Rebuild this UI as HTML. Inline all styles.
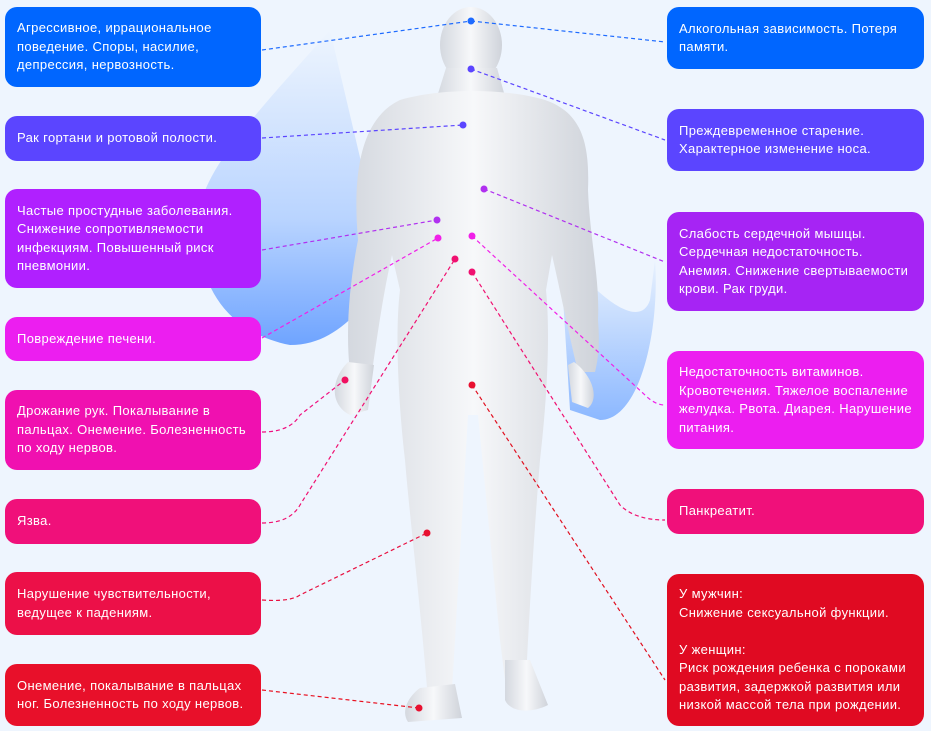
<!DOCTYPE html>
<html><head><meta charset="utf-8"><style>
body{margin:0;width:931px;height:731px;background:#eef5fe;position:relative;overflow:hidden;font-family:"Liberation Sans",sans-serif}
.b{position:absolute;border-radius:12px;color:#fff;font-size:13px;letter-spacing:.35px;line-height:18.5px;padding:0 10px 0 12px;box-sizing:border-box;display:flex;flex-direction:column;justify-content:center}
.l{left:5px;width:256px}.r{left:667px;width:257px}
svg{position:absolute;left:0;top:0}
</style></head><body>
<svg width="931" height="731">
<defs>
<linearGradient id="sw" x1="0" y1="0" x2="0" y2="1"><stop offset="0" stop-color="#eef5fe"/><stop offset=".6" stop-color="#b9d4ff"/><stop offset="1" stop-color="#6fa4ff"/></linearGradient>
<linearGradient id="sw2" x1="0" y1="0" x2="0" y2="1"><stop offset="0" stop-color="#eef5fe"/><stop offset="1" stop-color="#8cb8ff"/></linearGradient>
<linearGradient id="bd" x1="0" y1="0" x2="1" y2="0"><stop offset="0" stop-color="#d4d8df"/><stop offset=".5" stop-color="#f7f8fa"/><stop offset="1" stop-color="#cfd3da"/></linearGradient>
</defs>
<path d="M330 30 C260 110 200 170 198 220 C196 270 215 330 290 345 C320 345 340 330 360 310 L370 200 Z" fill="url(#sw)"/>
<path d="M560 250 C600 300 640 330 650 300 L655 260 C660 330 640 420 600 420 L570 410 Z" fill="url(#sw2)"/>
<g fill="url(#bd)">
<ellipse cx="471" cy="45" rx="31" ry="38"/>
<path d="M446 68 L497 68 L506 100 L436 100Z"/>
<path d="M400 100 C440 88 505 88 545 100 C580 112 590 140 588 190 C590 240 600 280 598 320 C600 345 598 360 595 372 L578 372 C568 330 560 290 552 255 L546 290 C550 330 548 390 540 460 C535 520 530 600 527 660 L505 680 L500 640 L478 415 L468 415 L455 640 L452 690 L428 700 C420 600 410 520 405 460 C398 400 395 330 400 290 L392 255 C384 290 378 330 372 372 L350 372 C345 330 350 280 358 240 C352 170 362 118 400 100Z"/>
<path d="M348 362 C330 380 330 405 350 415 L368 410 L374 365Z"/>
<path d="M574 362 C592 375 600 398 588 408 L572 402 L568 365Z"/>
<path d="M420 688 L455 684 L462 718 L408 722 C400 710 410 695 420 688Z"/>
<path d="M505 660 L530 660 L548 705 C530 714 510 712 505 700Z"/>
</g>
<g fill="none" stroke-width="1.2" stroke-dasharray="4 3">
<path d="M262 50 L471 21" stroke="#1e6bff"/>
<path d="M471 21 L665 42" stroke="#1e6bff"/>
<path d="M471 69 L665 140" stroke="#5b45ff"/>
<path d="M262 138 L463 125" stroke="#5b45ff"/>
<path d="M484 189 L665 262" stroke="#b030f0"/>
<path d="M262 250 L437 220" stroke="#b030f0"/>
<path d="M262 338 L438 238" stroke="#f020e8"/>
<path d="M472 236 L645 395 Q655 405 665 405" stroke="#f020e8"/>
<path d="M262 432 Q290 432 300 415 L345 380" stroke="#f01080"/>
<path d="M262 523 Q290 523 300 505 L455 259" stroke="#f01070"/>
<path d="M472 272 L620 505 Q635 520 665 520" stroke="#f01070"/>
<path d="M262 600 Q290 602 300 595 L427 533" stroke="#e81040"/>
<path d="M262 690 L419 708" stroke="#e81020"/>
<path d="M472 385 L665 680" stroke="#e01020"/>
</g>
<g>
<circle cx="471" cy="21" r="3.5" fill="#1e6bff"/><circle cx="471" cy="69" r="3.5" fill="#5b45ff"/>
<circle cx="463" cy="125" r="3.5" fill="#5b45ff"/><circle cx="484" cy="189" r="3.5" fill="#b030f0"/>
<circle cx="437" cy="220" r="3.5" fill="#b030f0"/><circle cx="438" cy="238" r="3.5" fill="#f020e8"/>
<circle cx="472" cy="236" r="3.5" fill="#f020e8"/><circle cx="455" cy="259" r="3.5" fill="#f01070"/>
<circle cx="472" cy="272" r="3.5" fill="#f01070"/><circle cx="345" cy="380" r="3.5" fill="#f01060"/>
<circle cx="472" cy="385" r="3.5" fill="#e81030"/><circle cx="427" cy="533" r="3.5" fill="#e81030"/>
<circle cx="419" cy="708" r="3.5" fill="#e81030"/>
</g>
</svg>
<div class="b l" style="top:7px;height:80px;background:#0066ff">Агрессивное, иррациональное поведение. Споры, насилие, депрессия, нервозность.</div>
<div class="b l" style="top:116px;height:45px;background:#5b45ff">Рак гортани и ротовой полости.</div>
<div class="b l" style="top:189px;height:99px;background:#b020ff">Частые простудные заболевания. Снижение сопротивляемости инфекциям. Повышенный риск пневмонии.</div>
<div class="b l" style="top:317px;height:44px;background:#ec1ef0">Повреждение печени.</div>
<div class="b l" style="top:390px;height:80px;background:#f010b0">Дрожание рук. Покалывание в<br>пальцах. Онемение. Болезненность по ходу нервов.</div>
<div class="b l" style="top:499px;height:45px;background:#f0107a">Язва.</div>
<div class="b l" style="top:572px;height:63px;background:#ec1048">Нарушение чувствительности,<br>ведущее к падениям.</div>
<div class="b l" style="top:664px;height:62px;background:#e8102a">Онемение, покалывание в пальцах<br>ног. Болезненность по ходу нервов.</div>
<div class="b r" style="top:7px;height:62px;background:#0066ff">Алкогольная зависимость. Потеря<br>памяти.</div>
<div class="b r" style="top:109px;height:62px;background:#5b45ff">Преждевременное старение.<br>Характерное изменение носа.</div>
<div class="b r" style="top:212px;height:99px;background:#a624f4">Слабость сердечной мышцы.<br>Сердечная недостаточность.<br>Анемия. Снижение свертываемости<br>крови. Рак груди.</div>
<div class="b r" style="top:351px;height:98px;background:#ec1ef0">Недостаточность витаминов.<br>Кровотечения. Тяжелое воспаление<br>желудка. Рвота. Диарея. Нарушение<br>питания.</div>
<div class="b r" style="top:489px;height:45px;background:#f0107a">Панкреатит.</div>
<div class="b r" style="top:574px;height:152px;background:#e00a22">У мужчин:<br>Снижение сексуальной функции.<br><br>У женщин:<br>Риск рождения ребенка с пороками развития, задержкой развития или низкой массой тела при рождении.</div>
</body></html>
